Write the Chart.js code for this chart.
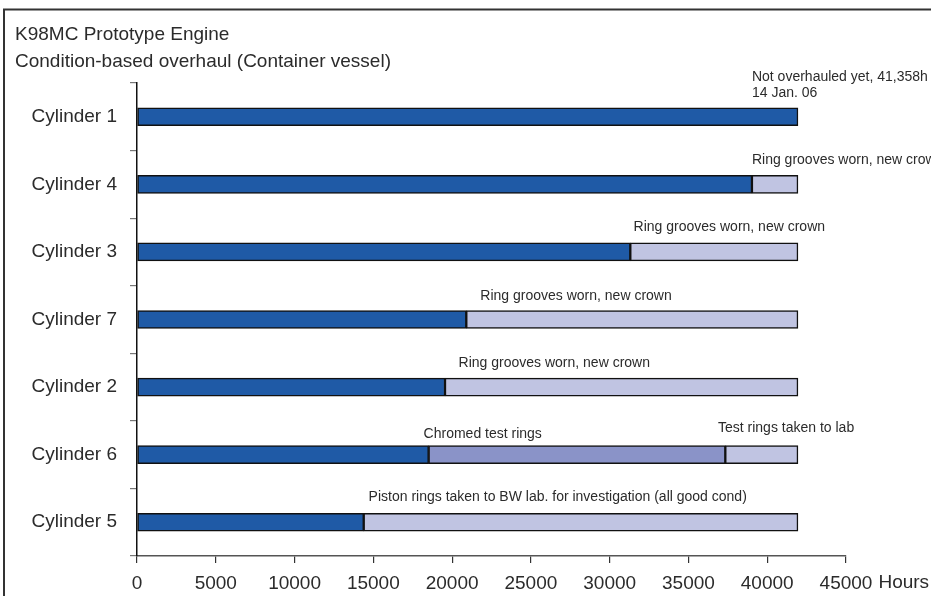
<!DOCTYPE html>
<html>
<head>
    <title>K98MC Prototype Engine</title>
    <script src="https://cdn.jsdelivr.net/npm/chart.js"></script>
    <style>
        body { margin: 0; background: #fff; }
        #wrap { width: 931px; height: 596px; position: relative; }
    </style>
</head>
<body>
    <div id="wrap"><canvas id="overhaulChart"></canvas></div>

    <script>
        // rows, top to bottom
        const cylinders = ["Cylinder 1", "Cylinder 4", "Cylinder 3", "Cylinder 7", "Cylinder 2", "Cylinder 6", "Cylinder 5"];
        // running hours where the first ring set came out
        const firstRunEnd = [41950, 39030, 31310, 20900, 19550, 18510, 14390];
        // chromed test rings (only cylinder 6)
        const chromedRunEnd = [null, null, null, null, null, 37340, null];
        // hours reached at 14 Jan. 06
        const totalHours = [41950, 41950, 41950, 41950, 41950, 41950, 41950];
        const xTicks = [0, 5000, 10000, 15000, 20000, 25000, 30000, 35000, 40000, 45000];

        const notes = [
            { row: 0, x: 39030, lines: ["Not overhauled yet, 41,358h", "14 Jan. 06"], lift: 23.5 },
            { row: 1, x: 39030, lines: ["Ring grooves worn, new crown"], lift: 24 },
            { row: 2, x: 31520, lines: ["Ring grooves worn, new crown"], lift: 25 },
            { row: 3, x: 21790, lines: ["Ring grooves worn, new crown"], lift: 23.5 },
            { row: 4, x: 20410, lines: ["Ring grooves worn, new crown"], lift: 24 },
            { row: 5, x: 18190, lines: ["Chromed test rings"], lift: 21 },
            { row: 5, x: 36875, lines: ["Test rings taken to lab"], lift: 26.5 },
            { row: 6, x: 14700, lines: ["Piston rings taken to BW lab. for investigation (all good cond)"], lift: 25.5 }
        ];

        const FONT = "'Liberation Sans', Arial, Helvetica, sans-serif";
        const TEXT = "#2b2b2b";

        const darkBars = cylinders.map((c, i) => [0, firstRunEnd[i]]);
        const midBars = cylinders.map((c, i) => chromedRunEnd[i] ? [firstRunEnd[i], chromedRunEnd[i]] : null);
        const lightBars = cylinders.map((c, i) => {
            let start = chromedRunEnd[i] || firstRunEnd[i];
            return start < totalHours[i] ? [start, totalHours[i]] : null;
        });

        const decorations = {
            id: "decorations",
            beforeDraw(chart) {
                const ctx = chart.ctx;
                ctx.save();
                ctx.strokeStyle = "#333";
                ctx.lineWidth = 2;
                ctx.beginPath();
                ctx.moveTo(4, 596);
                ctx.lineTo(4, 9.5);
                ctx.lineTo(931, 9.5);
                ctx.stroke();

                ctx.fillStyle = TEXT;
                ctx.font = "19px " + FONT;
                ctx.textBaseline = "middle";
                ctx.textAlign = "left";
                ctx.fillText("K98MC Prototype Engine", 15, 35);
                ctx.fillText("Condition-based overhaul (Container vessel)", 15, 62);
                ctx.restore();
            },
            afterDatasetsDraw(chart) {
                const ctx = chart.ctx;
                const xs = chart.scales.x, ys = chart.scales.y;
                ctx.save();
                ctx.fillStyle = TEXT;
                ctx.font = "14px " + FONT;
                ctx.textBaseline = "middle";
                ctx.textAlign = "left";
                notes.forEach(n => {
                    let px = xs.getPixelForValue(n.x);
                    let py = ys.getPixelForValue(n.row) - n.lift;
                    for (let k = n.lines.length - 1; k >= 0; k--) {
                        ctx.fillText(n.lines[k], px, py);
                        py -= 16.6;
                    }
                });

                // unit after the last tick label
                ctx.font = "19px " + FONT;
                let last = xTicks[xTicks.length - 1];
                let w = ctx.measureText(String(last)).width;
                ctx.fillText("Hours", xs.getPixelForValue(last) + w / 2 + 6, xs.top + 27);
                ctx.restore();
            }
        };

        const ctx = document.getElementById("overhaulChart").getContext("2d");
        new Chart(ctx, {
            type: "bar",
            data: {
                labels: cylinders,
                datasets: [
                    { label: "First ring set", data: darkBars, backgroundColor: "#1f5aa6" },
                    { label: "Chromed test rings", data: midBars, backgroundColor: "#8a93c8" },
                    { label: "After overhaul", data: lightBars, backgroundColor: "#c0c4e2" }
                ]
            },
            options: {
                indexAxis: "y",
                responsive: true,
                maintainAspectRatio: false,
                animation: false,
                layout: { padding: { top: 83, right: 85, left: 0, bottom: 0 } },
                datasets: {
                    bar: {
                        grouped: false,
                        barThickness: 18,
                        borderWidth: 1.5,
                        borderColor: "#111",
                        borderSkipped: false
                    }
                },
                plugins: {
                    legend: { display: false },
                    tooltip: { enabled: false }
                },
                scales: {
                    x: {
                        type: "linear",
                        min: 0,
                        max: 45000,
                        afterBuildTicks: scale => { scale.ticks = xTicks.map(v => ({ value: v })); },
                        afterFit: scale => { scale.height = 40; },
                        ticks: {
                            autoSkip: false,
                            maxRotation: 0,
                            padding: 9,
                            color: TEXT,
                            font: { size: 19, family: FONT },
                            callback: v => String(v)
                        },
                        grid: { drawOnChartArea: false, tickLength: 7, color: "#333", lineWidth: 1.2 },
                        border: { color: "#555", width: 1.5 }
                    },
                    y: {
                        afterFit: scale => { scale.width = 137; },
                        ticks: {
                            padding: 13,
                            color: TEXT,
                            font: { size: 19, family: FONT }
                        },
                        grid: { drawOnChartArea: false, offset: true, tickLength: 7, color: "#777", lineWidth: 1.2 },
                        border: { color: "#111", width: 1.5 }
                    }
                }
            },
            plugins: [decorations]
        });
    </script>
</body>
</html>
